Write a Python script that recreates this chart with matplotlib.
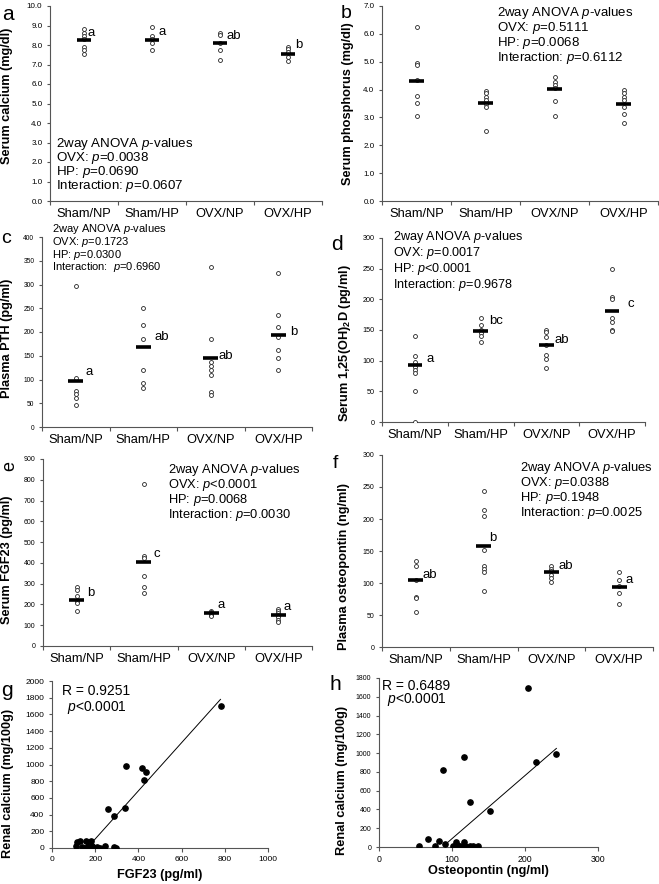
import numpy as np
import matplotlib
matplotlib.use('Agg')
import matplotlib.pyplot as plt

plt.rcParams['font.family'] = ['Liberation Sans', 'DejaVu Sans']
plt.rcParams['mathtext.fontset'] = 'custom'
plt.rcParams['mathtext.rm'] = 'Liberation Sans'
plt.rcParams['mathtext.it'] = 'Liberation Sans:italic'
plt.rcParams['mathtext.bf'] = 'Liberation Sans:bold'

# ---------------- data ----------------
groups = ['Sham/NP', 'Sham/HP', 'OVX/NP', 'OVX/HP']

calcium = [[8.8, 8.6, 8.45, 8.3, 7.9, 7.75, 7.55],
           [8.9, 8.45, 8.3, 8.1, 7.75],
           [8.6, 8.5, 8.1, 7.75, 7.25],
           [7.9, 7.8, 7.65, 7.4, 7.2]]
calcium_mean = [8.25, 8.25, 8.1, 7.55]
calcium_letters = ['a', 'a', 'ab', 'b']

phosphorus = [[6.25, 4.95, 4.9, 4.33, 3.77, 3.53, 3.05],
              [3.96, 3.86, 3.74, 3.62, 3.5, 3.38, 2.52],
              [4.46, 4.28, 4.16, 4.04, 3.6, 3.05],
              [4.0, 3.89, 3.74, 3.62, 3.38, 3.12, 2.79]]
phosphorus_mean = [4.3, 3.52, 4.02, 3.48]

pth = [[297, 103, 75, 70, 62, 47],
       [250, 215, 186, 120, 93, 82],
       [337, 186, 137, 128, 120, 109, 73, 68],
       [325, 235, 210, 190, 162, 145, 120]]
pth_mean = [97, 168, 145, 194]
pth_letters = ['a', 'ab', 'ab', 'b']

vitd = [[140, 108, 98, 90, 85, 80, 50, 0],
        [170, 158, 150, 145, 141, 131],
        [150, 146, 139, 125, 110, 103, 88],
        [249, 203, 201, 169, 163, 150, 148]]
vitd_mean = [93, 149, 126, 181]
vitd_letters = ['a', 'bc', 'ab', 'c']

fgf23 = [[285, 270, 240, 215, 205, 170],
         [780, 435, 425, 335, 285, 255],
         [170, 165, 158, 152, 148, 145],
         [178, 168, 160, 150, 140, 125, 115]]
fgf23_mean = [220, 405, 160, 149]
fgf23_letters = ['b', 'c', 'a', 'a']

opn = [[135, 127, 104, 78, 76, 55],
       [243, 214, 204, 152, 126, 122, 117, 88],
       [126, 122, 118, 113, 108, 101],
       [117, 105, 95, 84, 67]]
opn_mean = [104, 158, 117, 93]
opn_letters = ['ab', 'b', 'ab', 'a']

g_fgf23 = [118, 128, 112, 158, 180, 165, 185, 151, 169, 138, 208, 223, 246, 285, 297,
           258, 289, 338, 342, 415, 426, 435, 782]
g_renal = [68, 87, 20, 87, 87, 28, 28, 0, 0, 12, 8, 0, 20, 8, 0,
           465, 378, 477, 986, 954, 815, 906, 1698]
g_fit_x = [185, 780]
g_fit_y = [65, 1780]

h_opn = [54.5, 67, 77, 82, 88, 90, 101, 105, 107, 111, 117, 117, 118, 124, 124, 129, 135,
         152, 204, 214.5, 243]
h_renal = [14, 88, 7, 67, 820, 35, 14, 50, 25, 7, 53, 955, 7, 474, 7, 14, 7,
           385, 1694, 909, 986]
h_fit_x = [92, 243]
h_fit_y = [35, 1050]

# ---------------- layout helpers ----------------
W, H = 659, 884
fig = plt.figure(figsize=(W / 100, H / 100), dpi=100)
AX_COL = '#555555'


def add_ax(l, t, r, b):
    return fig.add_axes([l / W, 1 - b / H, (r - l) / W, (b - t) / H])


def ftext(x, y, s, **kw):
    fig.text(x / W, 1 - y / H, s, **kw)


def style(ax, tick_fs):
    for s in ['top', 'right']:
        ax.spines[s].set_visible(False)
    for s in ['left', 'bottom']:
        ax.spines[s].set_color(AX_COL)
        ax.spines[s].set_linewidth(0.8)
    ax.tick_params(axis='y', direction='out', length=2.5, width=0.8, color=AX_COL,
                   labelsize=tick_fs, pad=3)
    ax.tick_params(axis='x', direction='out', length=3, width=0.8, color=AX_COL,
                   labelsize=tick_fs, pad=3)


def dot_panel(ax, data, means, ymax, ystep, fmt, tick_fs, letters=None, letter_pos=None):
    style(ax, tick_fs)
    for i, vals in enumerate(data):
        xs = np.full(len(vals), i + 1.0)
        ax.plot(xs, vals, 'o', ms=2.8, mfc='white', mec='#222222', mew=0.6, zorder=3)
        ax.hlines(means[i], i + 1 - 0.11, i + 1 + 0.11, color='black', lw=2.6, zorder=4)
    if letters is not None:
        for (lx, ly), lt in zip(letter_pos, letters):
            ax.text(lx, ly, lt, fontsize=9.5, ha='left', va='center')
    ax.set_xlim(0.5, 4.5)
    ax.set_ylim(0, ymax)
    ax.set_yticks(np.arange(0, ymax + ystep / 2, ystep))
    ax.set_yticklabels([fmt.format(v) for v in np.arange(0, ymax + ystep / 2, ystep)])
    ax.set_xticks([0.5, 1.5, 2.5, 3.5, 4.5])
    ax.set_xticklabels([])
    ax.set_xticks([1, 2, 3, 4], minor=True)
    ax.set_xticklabels(groups, minor=True, fontsize=9.3)
    ax.tick_params(axis='x', which='minor', length=0, pad=5)


def anova(x, y0, dy, fs, lines):
    # one multi-line text block; line pitch dy (px), first-line centre y0 (px)
    em = fs * 100 / 72.0
    ls = (dy / em - 0.21) / 0.96
    ycen = y0 + 1.5 * dy
    ftext(x, ycen, '\n'.join(lines), fontsize=fs, ha='left', va='center',
          linespacing=ls)


P = '$\\mathit{p}$'

# ---------------- panel a ----------------
ax = add_ax(50, 6, 322, 201)
dot_panel(ax, calcium, calcium_mean, 10, 1, '{:.1f}', 5.8, calcium_letters,
          [(1.05, 8.62), (2.09, 8.68), (3.10, 8.46), (4.10, 8.0)])
anova(56, 145, 13.4, 9.6, ['2way ANOVA ' + P + '-values', 'OVX: ' + P + '=0.0038',
                           'HP: ' + P + '=0.0690', 'Interaction: ' + P + '=0.0607'])
ftext(7, 96, 'Serum calcium (mg/dl)', rotation=90, ha='center', va='center',
      fontsize=9.2, fontweight='bold')
ftext(8, 14, 'a', fontsize=15, ha='center', va='center')

# ---------------- panel b ----------------
ax = add_ax(382, 6, 658, 201)
dot_panel(ax, phosphorus, phosphorus_mean, 7, 1, '{:.1f}', 5.8)
anova(497, 14, 14.4, 9.5, ['2way ANOVA ' + P + '-values', 'OVX: ' + P + '=0.5111',
                           'HP: ' + P + '=0.0068', 'Interaction: ' + P + '=0.6112'])
ftext(348, 104, 'Serum phosphorus (mg/dl)', rotation=90, ha='center', va='center',
      fontsize=9.2, fontweight='bold')
ftext(346, 13, 'b', fontsize=14, ha='center', va='center')

# ---------------- panel c ----------------
ax = add_ax(42, 237, 312, 427)
dot_panel(ax, pth, pth_mean, 400, 50, '{:.0f}', 4.8, pth_letters,
          [(1.14, 115), (2.16, 189), (3.11, 149), (4.17, 200)])
anova(52, 231, 11.6, 8.0, ['2way ANOVA ' + P + '-values', 'OVX: ' + P + '=0.1723',
                           'HP: ' + P + '=0.0300', 'Interaction:  ' + P + '=0.6960'])
ftext(7, 338, 'Plasma PTH (pg/ml)', rotation=90, ha='center', va='center',
      fontsize=9.2, fontweight='bold')
ftext(6, 239, 'c', fontsize=14, ha='center', va='center')

# ---------------- panel d ----------------
ax = add_ax(382, 238, 645, 422)
dot_panel(ax, vitd, vitd_mean, 300, 50, '{:.0f}', 5.2, vitd_letters,
          [(1.17, 103), (2.13, 164), (3.12, 134), (4.23, 192)])
anova(393, 239, 14.7, 9.1, ['2way ANOVA ' + P + '-values', 'OVX: ' + P + '=0.0017',
                            'HP: ' + P + '<0.0001', 'Interaction: ' + P + '=0.9678'])
ftext(345, 343, 'Serum 1,25(OH)$_\\mathbf{2}$D (pg/ml)', rotation=90, ha='center',
      va='center', fontsize=9.2, fontweight='bold')
ftext(337, 244, 'd', fontsize=15, ha='center', va='center')

# ---------------- panel e ----------------
ax = add_ax(43, 459, 312, 646)
dot_panel(ax, fgf23, fgf23_mean, 900, 100, '{:.0f}', 5.0, fgf23_letters,
          [(1.15, 253), (2.14, 442), (3.09, 197), (4.07, 189)])
anova(168, 472, 13.9, 9.3, ['2way ANOVA ' + P + '-values', 'OVX: ' + P + '<0.0001',
                            'HP: ' + P + '=0.0068', 'Interaction: ' + P + '=0.0030'])
ftext(7, 560, 'Serum FGF23 (pg/ml)', rotation=90, ha='center', va='center',
      fontsize=9.2, fontweight='bold')
ftext(10, 466, 'e', fontsize=13, ha='center', va='center', rotation=90)

# ---------------- panel f ----------------
ax = add_ax(382, 455, 653, 647)
dot_panel(ax, opn, opn_mean, 300, 50, '{:.0f}', 5.0, opn_letters,
          [(1.105, 113), (2.08, 171), (3.10, 127), (4.10, 105)])
anova(520, 470, 13.9, 9.3, ['2way ANOVA ' + P + '-values', 'OVX: ' + P + '=0.0388',
                            'HP: ' + P + '=0.1948', 'Interaction: ' + P + '=0.0025'])
ftext(344, 567, 'Plasma osteopontin (ng/ml)', rotation=90, ha='center', va='center',
      fontsize=9.2, fontweight='bold')
ftext(335, 464, 'f', fontsize=14, ha='center', va='center')

# ---------------- panel g ----------------
ax = add_ax(52, 681, 268, 848)
style(ax, 6.0)
ax.plot(g_fgf23, g_renal, 'o', ms=3.8, color='black', zorder=3)
ax.plot(g_fit_x, g_fit_y, color='black', lw=0.7)
ax.set_xlim(0, 1000)
ax.set_ylim(0, 2000)
ax.set_xticks(np.arange(0, 1001, 200))
ax.set_yticks(np.arange(0, 2001, 200))
ftext(160, 875, 'FGF23 (pg/ml)', ha='center', va='center', fontsize=9.2, fontweight='bold')
ftext(8, 783, 'Renal calcium (mg/100g)', rotation=90, ha='center', va='center',
      fontsize=9.2, fontweight='bold')
ftext(62, 691, 'R = 0.9251', fontsize=10, ha='left', va='center')
ftext(67, 707, P + '<0.0001', fontsize=10, ha='left', va='center')
ftext(7, 690, 'g', fontsize=15, ha='center', va='center')

# ---------------- panel h ----------------
ax = add_ax(379, 678, 598, 847)
style(ax, 5.0)
ax.tick_params(axis='x', labelsize=6.3)
ax.plot(h_opn, h_renal, 'o', ms=3.8, color='black', zorder=3)
ax.plot(h_fit_x, h_fit_y, color='black', lw=0.7)
ax.set_xlim(0, 300)
ax.set_ylim(0, 1800)
ax.set_xticks(np.arange(0, 301, 100))
ax.set_yticks(np.arange(0, 1801, 200))
ftext(488, 871, 'Osteopontin (ng/ml)', ha='center', va='center', fontsize=9.2,
      fontweight='bold')
ftext(342, 780, 'Renal calcium (mg/100g)', rotation=90, ha='center', va='center',
      fontsize=9.2, fontweight='bold')
ftext(382, 686, 'R = 0.6489', fontsize=10, ha='left', va='center')
ftext(387, 700, P + '<0.0001', fontsize=10, ha='left', va='center')
ftext(335, 684, 'h', fontsize=15, ha='center', va='center')

fig.savefig('out.png', dpi=100)
